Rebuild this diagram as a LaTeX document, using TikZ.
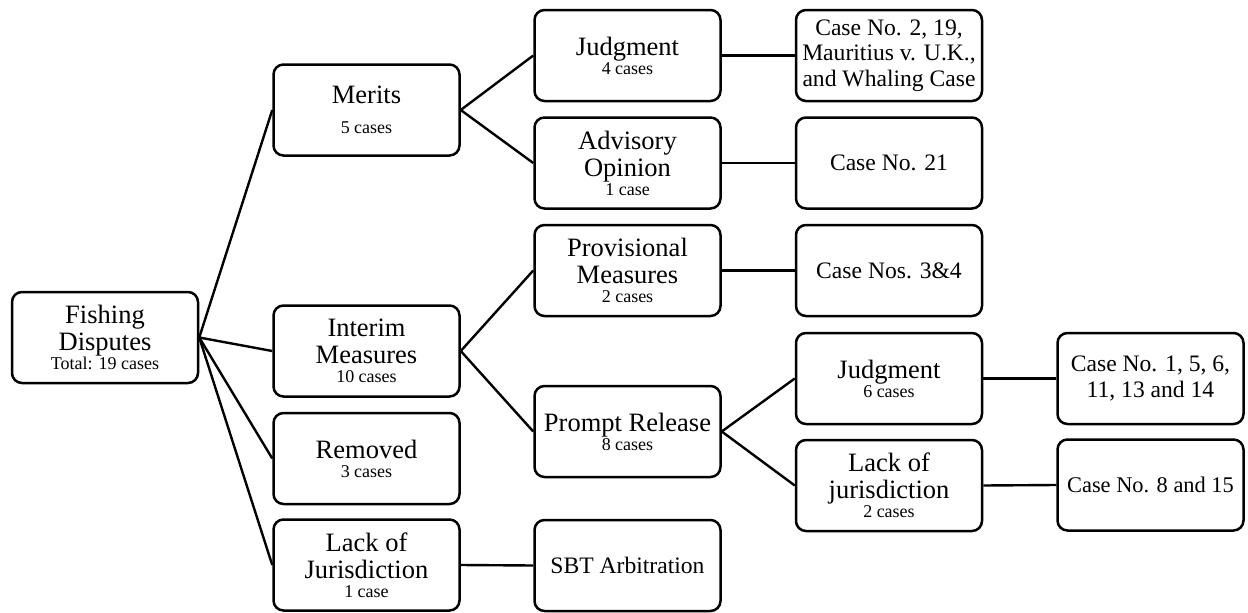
\documentclass[tikz,border=0pt]{standalone}
\usepackage{fontspec}
\setmainfont{Liberation Serif}
\newcommand\titlefnt{\fontsize{26.5}{27}\selectfont}
\newcommand\casefnt{\fontsize{23.6}{25.5}\selectfont}
\newcommand\smallfnt{\fontsize{18}{19}\selectfont}
\begin{document}
\begin{tikzpicture}[x=1pt,y=-1pt,
  box/.style={draw, line width=2.5pt, rounded corners=10pt, minimum width=186pt,
    minimum height=91pt, align=center, inner sep=1pt, font=\titlefnt},
  casebox/.style={box, font=\casefnt},
  link/.style={line width=2.4pt}]
\useasboundingbox (0,0) rectangle (1248,613);
% column 1
\node[box] (fd) at (105,337.5) {Fishing\\Disputes\\[-8pt]{\smallfnt Total: 19 cases}};
% column 2
\node[box] (merits) at (366.5,110) {Merits\\[3pt]{\smallfnt 5 cases}};
\node[box] (interim) at (366.5,351) {Interim\\Measures\\[-8pt]{\smallfnt 10 cases}};
\node[box] (removed) at (366.5,458.5) {Removed\\[-8pt]{\smallfnt 3 cases}};
\node[box] (lackj) at (366.5,565) {Lack of\\Jurisdiction\\[-8pt]{\smallfnt 1 case}};
% column 3
\node[box] (judg1) at (627.5,55.5) {Judgment\\[-8pt]{\smallfnt 4 cases}};
\node[box] (advis) at (627.5,163) {Advisory\\Opinion\\[-8pt]{\smallfnt 1 case}};
\node[box] (prov) at (627.5,270.5) {Provisional\\Measures\\[-8pt]{\smallfnt 2 cases}};
\node[box] (prompt) at (627.5,431.5) {Prompt Release\\[-8pt]{\smallfnt 8 cases}};
\node[casebox] (sbt) at (627.5,565.5) {SBT Arbitration};
% column 4
\node[casebox] (c2) at (889,55.5) {Case No. 2, 19,\\Mauritius v. U.K.,\\and Whaling Case};
\node[casebox] (c21) at (889,163) {Case No. 21};
\node[casebox] (c34) at (889,270.5) {Case Nos. 3\&4};
\node[box] (judg6) at (889,378.5) {Judgment\\[-8pt]{\smallfnt 6 cases}};
\node[box] (lackj2) at (889,485.5) {Lack of\\jurisdiction\\[-8pt]{\smallfnt 2 cases}};
% column 5
\node[casebox] (c1) at (1150.5,378.5) {Case No. 1, 5, 6,\\11, 13 and 14};
\node[casebox, font=\fontsize{22.4}{24}\selectfont] (c815) at (1150.5,485) {Case No. 8 and 15};
% connectors
\draw[link] (fd.east) -- (merits.west);
\draw[link] (fd.east) -- (interim.west);
\draw[link] (fd.east) -- (removed.west);
\draw[link] (fd.east) -- (lackj.west);
\draw[link] (merits.east) -- (judg1.west);
\draw[link] (merits.east) -- (advis.west);
\draw[link] (interim.east) -- (prov.west);
\draw[link] (interim.east) -- (prompt.west);
\draw[link] (lackj.east) -- (sbt.west);
\draw[link] (judg1.east) -- (c2.west);
\draw[link] (advis.east) -- (c21.west);
\draw[link] (prov.east) -- (c34.west);
\draw[link] (prompt.east) -- (judg6.west);
\draw[link] (prompt.east) -- (lackj2.west);
\draw[link] (judg6.east) -- (c1.west);
\draw[link] (lackj2.east) -- (c815.west);
\end{tikzpicture}
\end{document}
